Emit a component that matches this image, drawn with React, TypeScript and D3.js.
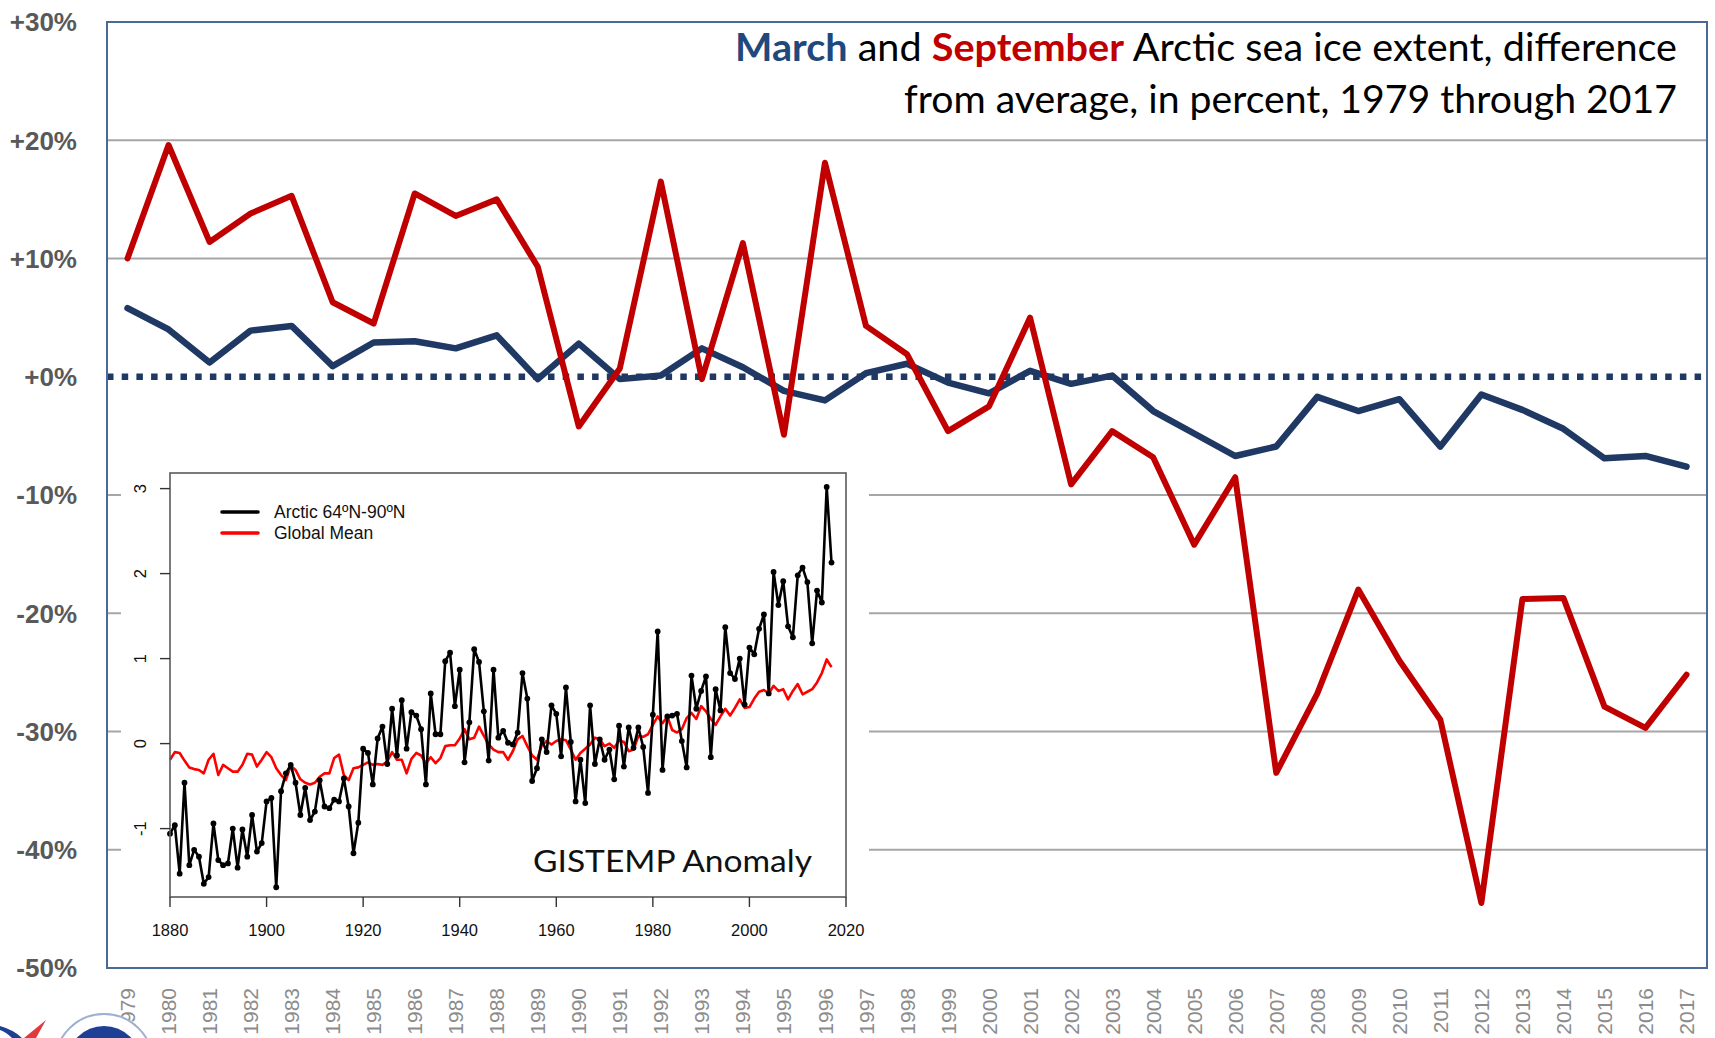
import * as d3 from 'd3'

const W = 1715
const H = 1038
const PLOT = { left: 107, right: 1707, top: 22, bottom: 968 }
const INSET = { left: 170, right: 846, top: 473, bottom: 897 }

// main chart categories / values (percent difference from average)
const yearLabels = [
  '1979', '1980', '1981', '1982', '1983', '1984', '1985', '1986', '1987', '1988',
  '1989', '1990', '1991', '1992', '1993', '1994', '1995', '1996', '1997', '1998',
  '1999', '2000', '2001', '2002', '2003', '2004', '2005', '2006', '2007', '2008',
  '2009', '2010', '2011', '2012', '2013', '2014', '2015', '2016', '2017',
]

const marchPct = [
  5.8, 4.0, 1.2, 3.9, 4.3, 0.9, 2.9, 3.0, 2.4, 3.5,
  -0.2, 2.8, -0.2, 0.1, 2.4, 0.8, -1.2, -2.0, 0.3, 1.1,
  -0.5, -1.4, 0.5, -0.6, 0.1, -2.9, -4.8, -6.7, -5.9, -1.7,
  -2.9, -1.9, -5.9, -1.5, -2.8, -4.4, -6.9, -6.7, -7.6,
]

const septemberPct = [
  10.0, 19.6, 11.4, 13.8, 15.3, 6.3, 4.5, 15.5, 13.6, 15.0,
  9.3, -4.2, 0.7, 16.5, -0.2, 11.3, -4.9, 18.1, 4.3, 1.9,
  -4.6, -2.5, 5.0, -9.1, -4.6, -6.8, -14.2, -8.5, -33.5, -26.8,
  -18.0, -24.0, -29.0, -44.5, -18.8, -18.7, -27.9, -29.7, -25.2,
]

const yTicks = [30, 20, 10, 0, -10, -20, -30, -40, -50]
const gridTicks = [20, 10, -10, -20, -30, -40]

// inset: GISTEMP annual anomalies 1880-2017
const insetStartYear = 1880
const arcticAnom = [
  -1.06, -0.96, -1.53, -0.46, -1.43, -1.25, -1.33, -1.65, -1.57, -0.94,
  -1.37, -1.43, -1.41, -1.0, -1.46, -1.01, -1.33, -0.84, -1.27, -1.17,
  -0.68, -0.64, -1.69, -0.56, -0.35, -0.25, -0.46, -0.84, -0.52, -0.9,
  -0.8, -0.43, -0.74, -0.76, -0.66, -0.68, -0.41, -0.74, -1.29, -0.93,
  -0.06, -0.11, -0.48, 0.06, 0.2, -0.24, 0.41, -0.14, 0.51, -0.06,
  0.37, 0.33, 0.17, -0.48, 0.59, 0.11, 0.11, 0.97, 1.07, 0.44,
  0.87, -0.22, 0.25, 1.11, 0.96, 0.38, -0.2, 0.87, 0.07, 0.15,
  0.01, -0.01, 0.13, 0.83, 0.53, -0.44, -0.29, 0.05, -0.1, 0.45,
  0.35, -0.15, 0.66, 0.02, -0.68, -0.19, -0.7, 0.45, -0.24, 0.05,
  -0.19, -0.07, -0.42, 0.21, -0.27, 0.19, -0.05, 0.19, -0.04, -0.58,
  0.34, 1.32, -0.31, 0.32, 0.33, 0.35, 0.03, -0.28, 0.8, 0.41,
  0.62, 0.79, -0.16, 0.64, 0.39, 1.37, 0.83, 0.76, 1.0, 0.46,
  1.13, 1.05, 1.35, 1.52, 0.59, 2.02, 1.63, 1.91, 1.38, 1.25,
  1.98, 2.07, 1.9, 1.18, 1.8, 1.66, 3.02, 2.13,
]

const globalAnom = [
  -0.19, -0.1, -0.11, -0.2, -0.28, -0.3, -0.31, -0.35, -0.19, -0.12,
  -0.37, -0.25, -0.29, -0.33, -0.33, -0.25, -0.12, -0.13, -0.27, -0.19,
  -0.1, -0.16, -0.29, -0.37, -0.43, -0.26, -0.31, -0.42, -0.46, -0.48,
  -0.46, -0.39, -0.35, -0.35, -0.17, -0.13, -0.37, -0.43, -0.29, -0.28,
  -0.25, -0.22, -0.25, -0.24, -0.25, -0.21, -0.1, -0.19, -0.19, -0.35,
  -0.18, -0.11, -0.14, -0.23, -0.16, -0.23, -0.17, -0.03, -0.02, -0.02,
  0.06, 0.17, 0.05, 0.07, 0.2, 0.09, -0.01, -0.07, -0.1, -0.1,
  -0.19, -0.09, 0.05, 0.09, -0.03, -0.14, -0.19, -0.02, 0.03, -0.01,
  0.03, 0.05, 0.04, -0.07, -0.19, -0.11, -0.06, -0.01, 0.07, 0.05,
  -0.03, 0.0, -0.05, 0.04, 0.02, -0.09, -0.07, 0.09, 0.08, 0.11,
  0.22, 0.32, 0.24, 0.32, 0.16, 0.13, 0.17, 0.3, 0.36, 0.29,
  0.44, 0.38, 0.29, 0.22, 0.32, 0.41, 0.33, 0.42, 0.52, 0.42,
  0.43, 0.53, 0.61, 0.63, 0.59, 0.68, 0.62, 0.64, 0.52, 0.62,
  0.7, 0.58, 0.61, 0.64, 0.72, 0.83, 0.99, 0.9,
]

const insetXTicks = [1880, 1900, 1920, 1940, 1960, 1980, 2000, 2020]
const insetYTicks = [-1, 0, 1, 2, 3]

const NAVY = '#1F3864'
const RED = '#C00000'

const fmtPct = (v: number) => (v >= 0 ? '+' : '') + v + '%'

export default function App() {
  const x = d3.scalePoint<string>().domain(yearLabels).range([PLOT.left, PLOT.right]).padding(0.5)
  const y = d3.scaleLinear().domain([-50, 30]).range([PLOT.bottom, PLOT.top])

  const mainLine = d3
    .line<number>()
    .x((_, i) => x(yearLabels[i]) as number)
    .y((d) => y(d))

  const ix = d3.scaleLinear().domain([1880, 2020]).range([INSET.left, INSET.right])
  const iy = d3.scaleLinear().domain([-1, 3]).range([828.6, 488.6])
  const insetLine = d3
    .line<number>()
    .x((_, i) => ix(insetStartYear + i))
    .y((d) => iy(d))

  return (
    <div style={{ position: 'absolute', left: 0, top: 0 }}>
      <svg width={W} height={H} style={{ display: 'block' }}>
        <rect x={0} y={0} width={W} height={H} fill="white" />

        {/* gridlines */}
        {gridTicks.map((t) => (
          <line key={t} x1={PLOT.left} x2={PLOT.right} y1={y(t)} y2={y(t)} stroke="#A6A6A6" strokeWidth={2} />
        ))}
        {/* zero line */}
        <line
          x1={PLOT.left}
          x2={PLOT.right}
          y1={y(0)}
          y2={y(0)}
          stroke={NAVY}
          strokeWidth={6.5}
          strokeDasharray="6.5 8.2"
        />

        {/* inset panel */}
        <rect x={121} y={458} width={748} height={500} fill="white" />
        <g fontFamily="'Liberation Sans', Arial, sans-serif">
          <path d={insetLine(globalAnom) ?? ''} fill="none" stroke="#FF0000" strokeWidth={2.6} strokeLinejoin="round" />
          <path d={insetLine(arcticAnom) ?? ''} fill="none" stroke="#000" strokeWidth={2.6} strokeLinejoin="round" />
          {arcticAnom.map((d, i) => (
            <circle key={i} cx={ix(insetStartYear + i)} cy={iy(d)} r={2.9} fill="#000" />
          ))}
          <rect
            x={INSET.left}
            y={INSET.top}
            width={INSET.right - INSET.left}
            height={INSET.bottom - INSET.top}
            fill="none"
            stroke="#5A5A5A"
            strokeWidth={1.6}
          />
          {insetXTicks.map((t) => (
            <g key={t}>
              <line x1={ix(t)} x2={ix(t)} y1={INSET.bottom} y2={INSET.bottom + 10} stroke="#333" strokeWidth={1.4} />
              <text x={ix(t)} y={936} textAnchor="middle" fontSize={16.5} fill="#111">
                {t}
              </text>
            </g>
          ))}
          {insetYTicks.map((t) => (
            <g key={t}>
              <line x1={INSET.left - 10} x2={INSET.left} y1={iy(t)} y2={iy(t)} stroke="#333" strokeWidth={1.4} />
              <text
                transform={`translate(146,${iy(t)}) rotate(-90)`}
                textAnchor="middle"
                fontSize={16.5}
                fill="#111"
              >
                {t}
              </text>
            </g>
          ))}
          {/* legend */}
          <line x1={222} x2={258} y1={512} y2={512} stroke="#000" strokeWidth={3.6} strokeLinecap="round" />
          <line x1={222} x2={258} y1={533} y2={533} stroke="#FF0000" strokeWidth={3.6} strokeLinecap="round" />
          <text x={274} y={518} fontSize={17.5} fill="#111">
            Arctic 64ºN-90ºN
          </text>
          <text x={274} y={539} fontSize={17.5} fill="#111">
            Global Mean
          </text>
          <text
            x={533}
            y={872}
            fontSize={30}
            fontFamily="Lato, 'Open Sans', sans-serif"
            fill="#111"
            textLength={279}
            lengthAdjust="spacingAndGlyphs"
          >
            GISTEMP Anomaly
          </text>
        </g>

        {/* series */}
        <path
          d={mainLine(marchPct) ?? ''}
          fill="none"
          stroke={NAVY}
          strokeWidth={6.5}
          strokeLinejoin="round"
          strokeLinecap="round"
        />
        <path
          d={mainLine(septemberPct) ?? ''}
          fill="none"
          stroke={RED}
          strokeWidth={6}
          strokeLinejoin="round"
          strokeLinecap="round"
        />

        {/* plot border */}
        <rect
          x={PLOT.left}
          y={PLOT.top}
          width={PLOT.right - PLOT.left}
          height={PLOT.bottom - PLOT.top}
          fill="none"
          stroke="#4A6A96"
          strokeWidth={2}
        />

        {/* y axis labels */}
        {yTicks.map((t) => (
          <text
            key={t}
            x={77}
            y={y(t)}
            dy="0.36em"
            textAnchor="end"
            fontSize={26}
            fontWeight="bold"
            fontFamily="'Liberation Sans', Arial, sans-serif"
            fill="#595959"
          >
            {fmtPct(t)}
          </text>
        ))}

        {/* x axis labels */}
        {yearLabels.map((yr) => (
          <text
            key={yr}
            transform={`translate(${x(yr)},${988}) rotate(-90)`}
            dy="0.36em"
            textAnchor="end"
            fontSize={21}
            fontFamily="'Liberation Sans', Arial, sans-serif"
            fill="#8C8C8C"
          >
            {yr}
          </text>
        ))}

        {/* title */}
        <g fontFamily="Lato, 'Open Sans', sans-serif" fontSize={38} fill="#000">
          <text x={1677} y={61} textAnchor="end" textLength={942} lengthAdjust="spacingAndGlyphs">
            <tspan fill="#1F497D" fontWeight="bold">
              March
            </tspan>
            <tspan>{' and '}</tspan>
            <tspan fill={RED} fontWeight="bold">
              September
            </tspan>
            <tspan>{' Arctic sea ice extent, difference'}</tspan>
          </text>
          <text x={1677} y={113} textAnchor="end" textLength={773} lengthAdjust="spacingAndGlyphs">
            from average, in percent, 1979 through 2017
          </text>
        </g>

        {/* agency logos, bottom-left corner */}
        <circle cx={104} cy={1063} r={49} fill="white" stroke="#9DB0D0" strokeWidth={2} />
        <circle cx={104} cy={1063} r={37} fill="#1D3F94" />
        <path d="M 0 1026 Q 14 1030 22 1038 L 12 1038 Q 6 1032 0 1030 Z" fill="#1D3F94" />
        <path d="M 24 1038 L 46 1020 L 36 1038 Z" fill="#E03A3E" />
      </svg>
    </div>
  )
}
